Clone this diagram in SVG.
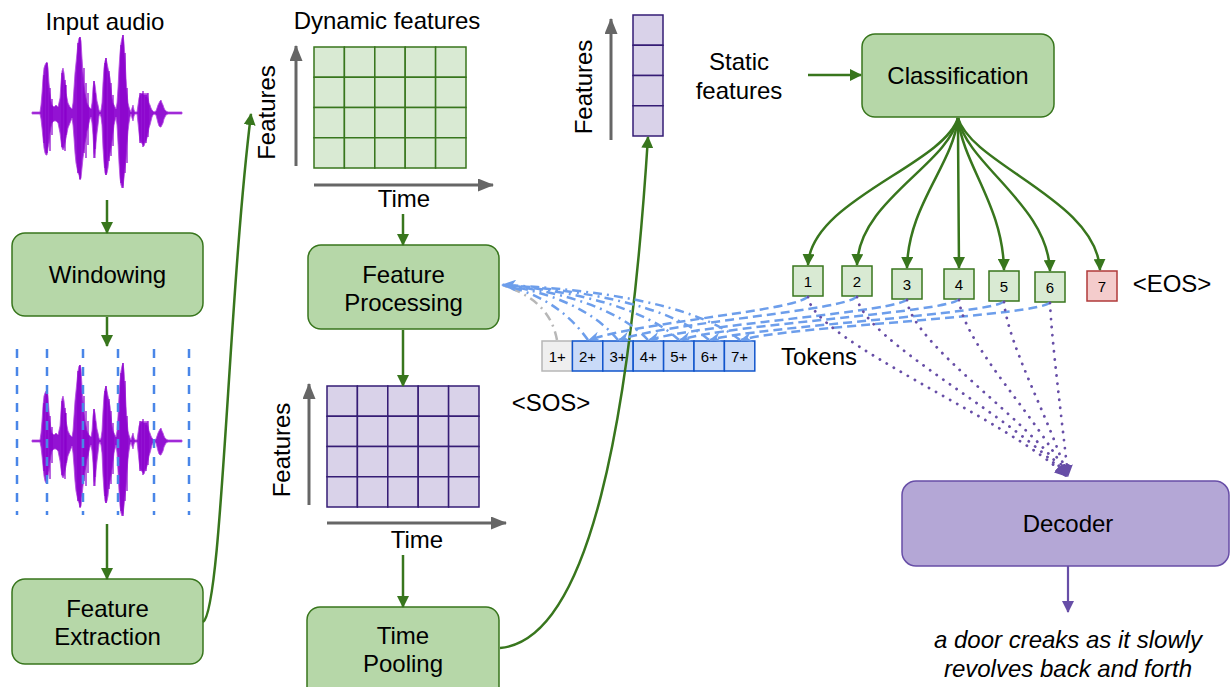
<svg xmlns="http://www.w3.org/2000/svg" width="1230" height="687" viewBox="0 0 1230 687">
<style>
text{font-family:"Liberation Sans",Arial,sans-serif;font-size:24px;fill:#000}
.tok{font-size:15px}
.box{fill:#b6d7a8;stroke:#38761d;stroke-width:1.5}
.gcell{fill:#d9ead3;stroke:#38761d;stroke-width:1.5}
.pcell{fill:#d9d2e9;stroke:#351c75;stroke-width:1.5}
.garr{fill:none;stroke:#38761d;stroke-width:2.5}
.axis{fill:none;stroke:#666;stroke-width:3}
.bdash{fill:none;stroke:#6d9eeb;stroke-width:2.5;stroke-dasharray:9 5}
.bdd{fill:none;stroke:#6d9eeb;stroke-width:2.5;stroke-dasharray:9 5 2 5}
.gdd{fill:none;stroke:#b7b7b7;stroke-width:2.5;stroke-dasharray:9 5 2 5}
.pdot{fill:none;stroke:#674ea7;stroke-width:2.8;stroke-dasharray:0.1 8;stroke-linecap:round}
.win{fill:none;stroke:#4a86e8;stroke-width:2.5;stroke-dasharray:9 9}
.wave{fill:#9313d3;stroke:#b44be0;stroke-width:0.8}
.spk{stroke:#8a00cc;stroke-width:1.2}
</style>
<defs>
<marker id="ag" markerUnits="userSpaceOnUse" markerWidth="12" markerHeight="12" refX="11" refY="6" orient="auto"><path d="M0,0 L12,6 L0,12 z" fill="#38761d"/></marker>
<marker id="ax" markerUnits="userSpaceOnUse" markerWidth="16" markerHeight="13" refX="15" refY="6.5" orient="auto"><path d="M0,0 L16,6.5 L0,13 z" fill="#666"/></marker>
<marker id="ab" markerUnits="userSpaceOnUse" markerWidth="12" markerHeight="10" refX="11" refY="5" orient="auto"><path d="M0,0 L12,5 L0,10 L4,5 z" fill="#6d9eeb"/></marker>
<marker id="abig" markerUnits="userSpaceOnUse" markerWidth="15" markerHeight="12" refX="14" refY="6" orient="auto"><path d="M0,0 L15,6 L0,12 L4,6 z" fill="#6d9eeb"/></marker>
<marker id="ap" markerUnits="userSpaceOnUse" markerWidth="12" markerHeight="12" refX="11" refY="6" orient="auto"><path d="M0,0 L12,6 L0,12 z" fill="#674ea7"/></marker>
<g id="wf">
<path class="wave" d="M32,-1 L40,-1 41,-8 42,-20 43,-35 44,-45 45,-48 46,-50 47,-51 48,-45 49,-30 50,-20 51,-12 52,-8 54,-6 56,-8 58,-6 60,-15 61,-30 62,-42 63,-45 64,-40 65,-30 66,-20 67,-15 68,-10 70,-6 72,-4 73,-10 74,-25 75,-40 76,-50 77,-60 78,-70 79,-75 80,-76 81,-72 82,-55 83,-40 84,-28 85,-20 86,-15 87,-10 88,-8 89,-6 90,-5 91,-4 92,-10 93,-25 94,-32 95,-28 96,-20 97,-12 98,-8 99,-3 100,-1 101,-3 102,-10 103,-30 104,-45 105,-52 106,-55 107,-50 108,-45 109,-40 110,-35 111,-25 112,-15 113,-10 114,-8 115,-6 116,-4 117,-10 118,-25 119,-45 120,-60 121,-70 122,-75 123,-78 124,-70 125,-55 126,-35 127,-20 128,-10 129,-6 130,-3 131,-1 132,-5 133,-8 134,-3 135,-1 137,-1 138,-8 139,-15 140,-18 141,-20 142,-19 143,-20 144,-18 145,-20 146,-18 147,-20 148,-15 149,-10 150,-8 151,-5 152,-3 153,-2 154,-1 156,-2 157,-5 158,-8 159,-10 160,-12 161,-13 162,-10 163,-8 164,-5 165,-3 166,-2 168,-1 182,-1 182,1 168,1 166,2 165,4 164,6 163,10 162,12 161,14 160,14 159,13 158,10 157,6 156,2 154,1 153,2 152,4 151,8 150,12 149,15 148,20 147,25 146,28 145,30 144,33 143,32 142,30 141,30 140,28 139,20 138,10 137,1 135,1 134,3 133,8 132,5 131,1 130,4 129,10 128,18 127,30 126,45 125,55 124,65 123,73 122,75 121,72 120,65 119,50 118,30 117,12 116,4 115,8 114,12 113,20 112,28 111,35 110,40 109,45 108,55 107,60 106,62 105,60 104,50 103,35 102,12 101,4 100,1 99,3 98,12 97,20 96,30 95,45 94,40 93,22 92,10 91,4 90,6 89,10 88,15 87,18 86,25 85,30 84,38 83,45 82,55 81,65 80,67 79,62 78,60 77,55 76,50 75,40 74,25 73,12 72,5 70,10 68,15 67,20 66,25 65,30 64,35 63,37 62,35 61,28 60,20 58,10 56,8 54,8 52,10 51,14 50,20 49,30 48,35 47,42 46,42 45,40 44,35 43,25 42,15 41,6 40,1 32,1 z"/>
<path class="spk" d="M44,-38 V30 M47,-50 V40 M50,-25 V38 M52,-14 V22 M62,-40 V34 M65,-33 V38 M66,-28 V22 M78,-70 V60 M80,-76 V66 M84,-45 V40 M86,-30 V45 M88,-20 V32 M94,-32 V45 M95,-20 V36 M105,-50 V55 M106,-55 V62 M109,-42 V48 M111,-30 V43 M113,-18 V33 M121,-68 V70 M123,-78 V75 M125,-60 V60 M127,-25 V50 M140,-20 V30 M143,-22 V34 M146,-16 V30 M148,-20 V24"/>
</g>
</defs>
<rect width="1230" height="687" fill="#fff"/>

<g id="input-audio">
<text x="105" y="30" text-anchor="middle">Input audio</text>
<use href="#wf" transform="translate(0,113)"/>
</g>

<g id="windowing">
<rect class="box" x="12" y="233" width="191" height="83" rx="13"/>
<text x="107.5" y="283" text-anchor="middle">Windowing</text>
</g>

<g id="windowed-audio">
<use href="#wf" transform="translate(0,441)"/>
<path class="win" d="M17,349 V515 M47,349 V515 M83,349 V515 M118,349 V515 M154,349 V515 M189,349 V515"/>
</g>

<g id="feature-extraction">
<rect class="box" x="12" y="579" width="191" height="85" rx="13"/>
<text x="107.5" y="617" text-anchor="middle">Feature</text>
<text x="107.5" y="645" text-anchor="middle">Extraction</text>
</g>

<g id="dynamic-features">
<text x="387" y="29" text-anchor="middle">Dynamic features</text>
<g class="gcell">
<rect x="314" y="47" width="30.4" height="30.25"/><rect x="344.4" y="47" width="30.4" height="30.25"/><rect x="374.8" y="47" width="30.4" height="30.25"/><rect x="405.2" y="47" width="30.4" height="30.25"/><rect x="435.6" y="47" width="30.4" height="30.25"/>
<rect x="314" y="77.25" width="30.4" height="30.25"/><rect x="344.4" y="77.25" width="30.4" height="30.25"/><rect x="374.8" y="77.25" width="30.4" height="30.25"/><rect x="405.2" y="77.25" width="30.4" height="30.25"/><rect x="435.6" y="77.25" width="30.4" height="30.25"/>
<rect x="314" y="107.5" width="30.4" height="30.25"/><rect x="344.4" y="107.5" width="30.4" height="30.25"/><rect x="374.8" y="107.5" width="30.4" height="30.25"/><rect x="405.2" y="107.5" width="30.4" height="30.25"/><rect x="435.6" y="107.5" width="30.4" height="30.25"/>
<rect x="314" y="137.75" width="30.4" height="30.25"/><rect x="344.4" y="137.75" width="30.4" height="30.25"/><rect x="374.8" y="137.75" width="30.4" height="30.25"/><rect x="405.2" y="137.75" width="30.4" height="30.25"/><rect x="435.6" y="137.75" width="30.4" height="30.25"/>
</g>
<path class="axis" d="M296,166 V46" marker-end="url(#ax)"/>
<path class="axis" d="M314,185 H493" marker-end="url(#ax)"/>
<text transform="translate(275,112.5) rotate(-90)" text-anchor="middle">Features</text>
<text x="404" y="207" text-anchor="middle">Time</text>
</g>

<g id="feature-processing">
<rect class="box" x="308" y="245" width="191" height="84" rx="13"/>
<text x="403.5" y="283" text-anchor="middle">Feature</text>
<text x="403.5" y="311" text-anchor="middle">Processing</text>
</g>

<g id="processed-features">
<g class="pcell">
<rect x="327" y="386" width="30.4" height="30.25"/><rect x="357.4" y="386" width="30.4" height="30.25"/><rect x="387.8" y="386" width="30.4" height="30.25"/><rect x="418.2" y="386" width="30.4" height="30.25"/><rect x="448.6" y="386" width="30.4" height="30.25"/>
<rect x="327" y="416.25" width="30.4" height="30.25"/><rect x="357.4" y="416.25" width="30.4" height="30.25"/><rect x="387.8" y="416.25" width="30.4" height="30.25"/><rect x="418.2" y="416.25" width="30.4" height="30.25"/><rect x="448.6" y="416.25" width="30.4" height="30.25"/>
<rect x="327" y="446.5" width="30.4" height="30.25"/><rect x="357.4" y="446.5" width="30.4" height="30.25"/><rect x="387.8" y="446.5" width="30.4" height="30.25"/><rect x="418.2" y="446.5" width="30.4" height="30.25"/><rect x="448.6" y="446.5" width="30.4" height="30.25"/>
<rect x="327" y="476.75" width="30.4" height="30.25"/><rect x="357.4" y="476.75" width="30.4" height="30.25"/><rect x="387.8" y="476.75" width="30.4" height="30.25"/><rect x="418.2" y="476.75" width="30.4" height="30.25"/><rect x="448.6" y="476.75" width="30.4" height="30.25"/>
</g>
<path class="axis" d="M309,505 V384" marker-end="url(#ax)"/>
<path class="axis" d="M327,523 H506" marker-end="url(#ax)"/>
<text transform="translate(290,450) rotate(-90)" text-anchor="middle">Features</text>
<text x="417" y="548" text-anchor="middle">Time</text>
</g>

<g id="time-pooling">
<rect class="box" x="307" y="607" width="192" height="95" rx="13"/>
<text x="403" y="644" text-anchor="middle">Time</text>
<text x="403" y="672" text-anchor="middle">Pooling</text>
</g>

<g id="static-features">
<g class="pcell">
<rect x="633" y="15" width="30" height="30.25"/><rect x="633" y="45.25" width="30" height="30.25"/><rect x="633" y="75.5" width="30" height="30.25"/><rect x="633" y="105.75" width="30" height="30.25"/>
</g>
<path class="axis" d="M611,140 V19" marker-end="url(#ax)"/>
<text transform="translate(592,87) rotate(-90)" text-anchor="middle">Features</text>
<text x="739" y="70" text-anchor="middle">Static</text>
<text x="739" y="99" text-anchor="middle">features</text>
</g>

<g id="classification">
<rect class="box" x="862" y="34" width="192" height="83" rx="13"/>
<text x="958" y="84" text-anchor="middle">Classification</text>
</g>

<g id="tokens">
<g class="gcell">
<rect x="793" y="266" width="30" height="30"/>
<rect x="842" y="266" width="30" height="30"/>
<rect x="892" y="269" width="30" height="30"/>
<rect x="944" y="269" width="30" height="30"/>
<rect x="989" y="271" width="30" height="30"/>
<rect x="1035" y="272" width="30" height="30"/>
</g>
<rect x="1087" y="271" width="30" height="30" fill="#f4cccc" stroke="#b03a3a" stroke-width="1.5"/>
<text class="tok" x="808" y="286.5" text-anchor="middle">1</text>
<text class="tok" x="857" y="286.5" text-anchor="middle">2</text>
<text class="tok" x="907" y="289.5" text-anchor="middle">3</text>
<text class="tok" x="959" y="289.5" text-anchor="middle">4</text>
<text class="tok" x="1004" y="291.5" text-anchor="middle">5</text>
<text class="tok" x="1050" y="292.5" text-anchor="middle">6</text>
<text class="tok" x="1102" y="291.5" text-anchor="middle">7</text>
<text x="1172" y="292" text-anchor="middle">&lt;EOS&gt;</text>
<text x="819" y="365" text-anchor="middle">Tokens</text>
</g>

<g id="token-sequence">
<rect x="542" y="341" width="30.4" height="30" fill="#efefef" stroke="#b7b7b7" stroke-width="1.5"/>
<g fill="#c9daf8" stroke="#1155cc" stroke-width="1.5">
<rect x="572.4" y="341" width="30.4" height="30"/><rect x="602.8" y="341" width="30.4" height="30"/><rect x="633.2" y="341" width="30.4" height="30"/><rect x="663.6" y="341" width="30.4" height="30"/><rect x="694" y="341" width="30.4" height="30"/><rect x="724.4" y="341" width="30.4" height="30"/>
</g>
<text class="tok" x="557.2" y="361.5" text-anchor="middle">1+</text>
<text class="tok" x="587.6" y="361.5" text-anchor="middle">2+</text>
<text class="tok" x="618" y="361.5" text-anchor="middle">3+</text>
<text class="tok" x="648.4" y="361.5" text-anchor="middle">4+</text>
<text class="tok" x="678.8" y="361.5" text-anchor="middle">5+</text>
<text class="tok" x="709.2" y="361.5" text-anchor="middle">6+</text>
<text class="tok" x="739.6" y="361.5" text-anchor="middle">7+</text>
<text x="551" y="411" text-anchor="middle">&lt;SOS&gt;</text>
</g>

<g id="decoder">
<rect x="902" y="481" width="327" height="85" rx="14" fill="#b4a7d6" stroke="#674ea7" stroke-width="1.5"/>
<text x="1068" y="532" text-anchor="middle">Decoder</text>
</g>

<g id="caption">
<text x="1068" y="648" text-anchor="middle" font-style="italic">a door creaks as it slowly</text>
<text x="1068" y="677" text-anchor="middle" font-style="italic">revolves back and forth</text>
</g>

<g id="connectors">
<path class="garr" d="M107,200 V233" marker-end="url(#ag)"/>
<path class="garr" d="M107,317 V346" marker-end="url(#ag)"/>
<path class="garr" d="M107,524 V579" marker-end="url(#ag)"/>
<path class="garr" d="M203,622 C222,610 228,300 251,114" marker-end="url(#ag)"/>
<path class="garr" d="M403,214 V245" marker-end="url(#ag)"/>
<path class="garr" d="M403,330 V386" marker-end="url(#ag)"/>
<path class="garr" d="M403,555 V607" marker-end="url(#ag)"/>
<path class="garr" d="M500,648 C590,640 630,420 648,137" marker-end="url(#ag)"/>
<path class="garr" d="M808,75 H861" marker-end="url(#ag)"/>
<path class="garr" d="M958,118 C943,165 811,200 808,265" marker-end="url(#ag)"/>
<path class="garr" d="M958,118 C948,165 859,200 857,265" marker-end="url(#ag)"/>
<path class="garr" d="M958,118 C953,165 908,205 907,268" marker-end="url(#ag)"/>
<path class="garr" d="M958,118 C958,165 959,205 959,268" marker-end="url(#ag)"/>
<path class="garr" d="M958,118 C963,165 1003,205 1004,270" marker-end="url(#ag)"/>
<path class="garr" d="M958,118 C967,165 1048,205 1050,271" marker-end="url(#ag)"/>
<path class="garr" d="M958,118 C972,165 1097,200 1100,270" marker-end="url(#ag)"/>

<path class="bdash" d="M808,296 C802,310 640,322 589,340" marker-end="url(#ab)"/>
<path class="bdash" d="M857,296 C851,310 670,322 619,340" marker-end="url(#ab)"/>
<path class="bdash" d="M907,299 C901,312 700,324 649,340" marker-end="url(#ab)"/>
<path class="bdash" d="M959,299 C953,312 730,324 680,340" marker-end="url(#ab)"/>
<path class="bdash" d="M1004,301 C998,314 760,326 710,340" marker-end="url(#ab)"/>
<path class="bdash" d="M1050,302 C1044,316 790,326 741,340" marker-end="url(#ab)"/>

<path class="gdd" d="M557,340 C553,318 540,298 505,286"/>
<path class="bdd" d="M588,340 C570,315 545,295 503,285"/>
<path class="bdd" d="M618,340 C595,312 555,293 503,285"/>
<path class="bdd" d="M648,340 C620,310 565,292 503,285"/>
<path class="bdd" d="M679,340 C645,308 575,291 503,285"/>
<path class="bdd" d="M709,340 C670,306 585,290 503,285"/>
<path class="bdd" d="M740,340 C695,304 595,289 502,285" marker-end="url(#abig)"/>

<path class="pdot" d="M808,297 C813,340 1010,420 1066,476" marker-end="url(#ap)"/>
<path class="pdot" d="M857,297 C862,340 1020,420 1066,476" marker-end="url(#ap)"/>
<path class="pdot" d="M907,300 C912,345 1030,420 1066,476" marker-end="url(#ap)"/>
<path class="pdot" d="M959,300 C964,345 1040,420 1067,476" marker-end="url(#ap)"/>
<path class="pdot" d="M1004,302 C1008,345 1050,420 1067,476" marker-end="url(#ap)"/>
<path class="pdot" d="M1050,303 C1052,345 1062,420 1068,476" marker-end="url(#ap)"/>
<path d="M1068,566 V612" fill="none" stroke="#674ea7" stroke-width="2.2" marker-end="url(#ap)"/>
</g>
</svg>
